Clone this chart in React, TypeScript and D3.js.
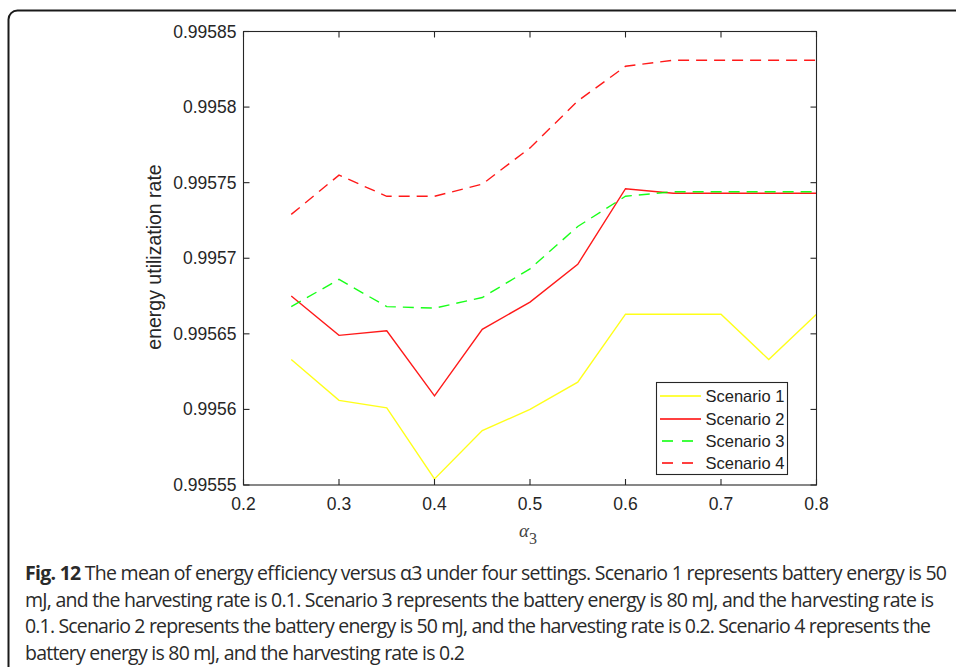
import React, { useEffect, useRef } from "react";
import * as d3 from "d3";

const alpha = [0.25, 0.3, 0.35, 0.4, 0.45, 0.5, 0.55, 0.6, 0.65, 0.7, 0.75, 0.8];
const scenario1 = [0.995633, 0.995606, 0.995601, 0.995554, 0.995586, 0.9956, 0.995618, 0.995663, 0.995663, 0.995663, 0.995633, 0.995663];
const scenario2 = [0.995675, 0.995649, 0.995652, 0.995609, 0.995653, 0.995671, 0.995696, 0.995746, 0.995743, 0.995743, 0.995743, 0.995743];
const scenario3 = [0.995668, 0.995686, 0.995668, 0.995667, 0.995674, 0.995693, 0.995721, 0.995741, 0.995744, 0.995744, 0.995744, 0.995744];
const scenario4 = [0.995729, 0.995755, 0.995741, 0.995741, 0.995749, 0.995773, 0.995804, 0.995827, 0.995831, 0.995831, 0.995831, 0.995831];

const seriesNames = ["Scenario 1", "Scenario 2", "Scenario 3", "Scenario 4"];
const xTicks = [0.2, 0.3, 0.4, 0.5, 0.6, 0.7, 0.8];
const yTicks = [0.99555, 0.9956, 0.99565, 0.9957, 0.99575, 0.9958, 0.99585];
const yTickLabels = ["0.99555", "0.9956", "0.99565", "0.9957", "0.99575", "0.9958", "0.99585"];

const captionLines = [
  " The mean of energy efficiency versus α3 under four settings. Scenario 1 represents battery energy is 50",
  "mJ, and the harvesting rate is 0.1. Scenario 3 represents the battery energy is 80 mJ, and the harvesting rate is",
  "0.1. Scenario 2 represents the battery energy is 50 mJ, and the harvesting rate is 0.2. Scenario 4 represents the",
  "battery energy is 80 mJ, and the harvesting rate is 0.2",
];

export default function App() {
  const ref = useRef<SVGSVGElement>(null);

  useEffect(() => {
    const svg = d3.select(ref.current);
    svg.selectAll("*").remove();

    const W = 956, H = 667;
    const left = 243.5, right = 816.5, top = 31.5, bottom = 485;
    const x = d3.scaleLinear().domain([0.2, 0.8]).range([left, right]);
    const y = d3.scaleLinear().domain([0.99555, 0.99585]).range([bottom, top]);

    // outer frame
    svg.append("rect")
      .attr("x", 8.5).attr("y", 10.5)
      .attr("width", W + 40).attr("height", H + 40)
      .attr("rx", 9)
      .attr("fill", "white").attr("stroke", "#1a1a1a").attr("stroke-width", 2);

    const axisColor = "#262626";
    const tickFont = "'Liberation Sans', Arial, sans-serif";

    // series
    const series = [
      { name: seriesNames[0], data: scenario1, color: "#ffff00", dash: null },
      { name: seriesNames[1], data: scenario2, color: "#ff0000", dash: null },
      { name: seriesNames[2], data: scenario3, color: "#00ff00", dash: "11 7" },
      { name: seriesNames[3], data: scenario4, color: "#ff0000", dash: "11 7" },
    ];
    const line = d3.line<number>()
      .x((_, i) => x(alpha[i]))
      .y((d) => y(d));

    const plot = svg.append("g");
    series.forEach((s) => {
      plot.append("path")
        .datum(s.data)
        .attr("d", line)
        .attr("fill", "none")
        .attr("stroke", s.color)
        .attr("stroke-width", 1.4)
        .attr("stroke-dasharray", s.dash)
        .attr("opacity", 0.9);
    });

    // axes box
    const box = svg.append("g").attr("stroke", axisColor).attr("stroke-width", 1.1);
    box.append("rect")
      .attr("x", left).attr("y", top)
      .attr("width", right - left).attr("height", bottom - top)
      .attr("fill", "none");

    const tl = 6;
    xTicks.forEach((t) => {
      box.append("line").attr("x1", x(t)).attr("x2", x(t)).attr("y1", bottom).attr("y2", bottom - tl);
      box.append("line").attr("x1", x(t)).attr("x2", x(t)).attr("y1", top).attr("y2", top + tl);
    });
    yTicks.forEach((t) => {
      box.append("line").attr("x1", left).attr("x2", left + tl).attr("y1", y(t)).attr("y2", y(t));
      box.append("line").attr("x1", right).attr("x2", right - tl).attr("y1", y(t)).attr("y2", y(t));
    });

    // tick labels
    svg.append("g").selectAll("text").data(xTicks).join("text")
      .attr("x", (d) => x(d)).attr("y", 509.5)
      .attr("text-anchor", "middle")
      .attr("font-family", tickFont).attr("font-size", 17.5)
      .attr("fill", axisColor)
      .text((d) => String(d));

    svg.append("g").selectAll("text").data(yTicks).join("text")
      .attr("x", 236.5).attr("y", (d) => y(d) + 6)
      .attr("text-anchor", "end")
      .attr("font-family", tickFont).attr("font-size", 17.5)
      .attr("fill", axisColor)
      .text((_, i) => yTickLabels[i]);

    // y label
    svg.append("text")
      .attr("transform", `translate(161, 257) rotate(-90)`)
      .attr("text-anchor", "middle")
      .attr("font-family", tickFont).attr("font-size", 19.5)
      .attr("fill", axisColor)
      .text("energy utilization rate");

    // x label alpha_3
    const xl = svg.append("text")
      .attr("x", 519).attr("y", 537)
      .attr("font-family", "'Liberation Serif', 'DejaVu Serif', serif")
      .attr("font-size", 19)
      .attr("fill", "#444");
    xl.append("tspan").attr("font-style", "italic").text("α");
    xl.append("tspan").attr("dy", 7).attr("font-size", 16).text("3");

    // legend
    const lg = svg.append("g");
    lg.append("rect")
      .attr("x", 656.5).attr("y", 382.5).attr("width", 131).attr("height", 92)
      .attr("fill", "white").attr("stroke", axisColor).attr("stroke-width", 1.1);
    const legendY = [396, 419, 441, 463];
    series.forEach((s, i) => {
      lg.append("line")
        .attr("x1", 660).attr("x2", 701)
        .attr("y1", legendY[i]).attr("y2", legendY[i])
        .attr("stroke", s.color).attr("stroke-width", 1.4)
        .attr("stroke-dasharray", s.dash ? "11 9" : null)
        .attr("stroke-dashoffset", s.dash ? -2 : 0);
      lg.append("text")
        .attr("x", 705.5).attr("y", legendY[i] + 6)
        .attr("font-family", tickFont).attr("font-size", 16.5)
        .attr("fill", "#222")
        .text(s.name);
    });

    // caption
    const capFont = "'Open Sans', 'Noto Sans', sans-serif";
    const baselines = [580, 606.7, 633.3, 660];
    const lineEnds = [947, 934, 931, 465];
    captionLines.forEach((ln, i) => {
      const t = svg.append("text")
        .attr("x", 25).attr("y", baselines[i])
        .attr("font-family", capFont).attr("font-size", 19.5)
        .attr("fill", "#2a2a2a")
        .attr("textLength", lineEnds[i] - 25)
        .attr("lengthAdjust", "spacing");
      if (i === 0) {
        t.append("tspan").attr("font-weight", "bold").text("Fig. 12");
        t.append("tspan").text(ln);
      } else {
        t.text(ln);
      }
    });
  }, []);

  return (
    <svg
      ref={ref}
      width={956}
      height={667}
      style={{ position: "absolute", left: 0, top: 0, background: "white" }}
    />
  );
}
